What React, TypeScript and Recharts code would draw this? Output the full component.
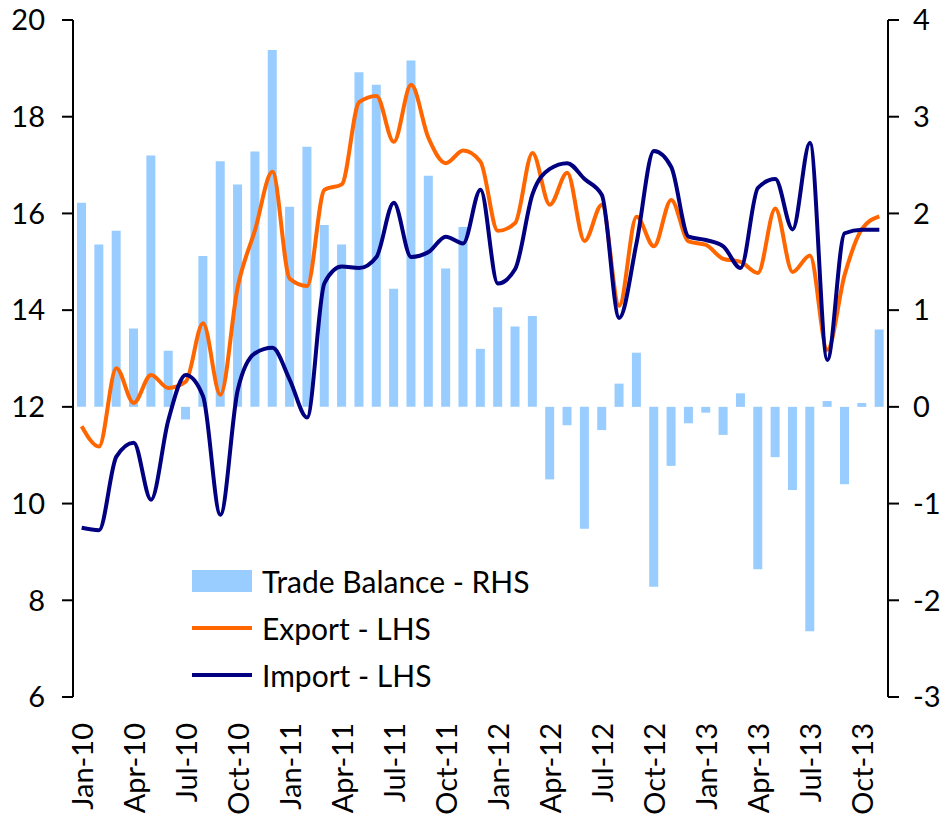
import { Bar, ComposedChart, Legend, Line, XAxis, YAxis } from "recharts"

const months = [
  "Jan-10", "Feb-10", "Mar-10", "Apr-10", "May-10", "Jun-10", "Jul-10", "Aug-10", "Sep-10", "Oct-10", "Nov-10", "Dec-10",
  "Jan-11", "Feb-11", "Mar-11", "Apr-11", "May-11", "Jun-11", "Jul-11", "Aug-11", "Sep-11", "Oct-11", "Nov-11", "Dec-11",
  "Jan-12", "Feb-12", "Mar-12", "Apr-12", "May-12", "Jun-12", "Jul-12", "Aug-12", "Sep-12", "Oct-12", "Nov-12", "Dec-12",
  "Jan-13", "Feb-13", "Mar-13", "Apr-13", "May-13", "Jun-13", "Jul-13", "Aug-13", "Sep-13", "Oct-13", "Nov-13",
]

const tradeBalance = [
  2.11, 1.68, 1.82, 0.81, 2.6, 0.58, -0.13, 1.56, 2.54, 2.3, 2.64, 3.69,
  2.07, 2.69, 1.88, 1.68, 3.46, 3.33, 1.22, 3.58, 2.39, 1.43, 1.86, 0.6,
  1.03, 0.83, 0.94, -0.75, -0.19, -1.26, -0.24, 0.24, 0.56, -1.86, -0.61, -0.17,
  -0.06, -0.29, 0.14, -1.68, -0.52, -0.86, -2.32, 0.06, -0.8, 0.04, 0.8,
]

const exportValues = [
  11.6, 11.18, 12.8, 12.08, 12.66, 12.39, 12.52, 13.73, 12.25, 14.48, 15.66, 16.86,
  14.65, 14.5, 16.49, 16.6, 18.3, 18.43, 17.48, 18.66, 17.56, 17.04, 17.3, 17.07,
  15.64, 15.8, 17.25, 16.18, 16.84, 15.43, 16.18, 14.09, 15.93, 15.32, 16.28, 15.42,
  15.35, 15.06, 15.0, 14.77, 16.1, 14.79, 15.13, 13.18, 14.73, 15.68, 15.94,
]

const importValues = [
  9.5, 9.45, 10.97, 11.26, 10.08, 11.73, 12.66, 12.22, 9.77, 12.35, 13.11, 13.22,
  12.56, 11.78, 14.56, 14.9, 14.87, 15.1, 16.22, 15.1, 15.2, 15.52, 15.38, 16.49,
  14.55, 14.85, 16.4, 16.92, 17.04, 16.71, 16.38, 13.84, 15.39, 17.29, 16.96, 15.52,
  15.45, 15.32, 14.87, 16.53, 16.71, 15.67, 17.46, 12.97, 15.59, 15.66, 15.66,
]

const leftTicks = [6, 8, 10, 12, 14, 16, 18, 20]
const rightTicks = [-3, -2, -1, 0, 1, 2, 3, 4]

const data = months.map((month, i) => ({
  month,
  balance: tradeBalance[i],
  exports: exportValues[i],
  imports: importValues[i],
}))

const font = "Lato, 'Liberation Sans', sans-serif"
const fontSize = 29

function MonthTick({ x, y, payload }: any) {
  return (
    <text
      x={x}
      y={y}
      transform={`rotate(-90, ${x}, ${y})`}
      textAnchor="end"
      dominantBaseline="central"
      fontSize={fontSize}
      fontFamily={font}
      fill="#000"
    >
      {payload.value}
    </text>
  )
}

const legendItems = [
  { label: "Trade Balance - RHS", color: "#99CCFF", bar: true },
  { label: "Export - LHS", color: "#FF6600", bar: false },
  { label: "Import - LHS", color: "#000080", bar: false },
]

function TradeLegend() {
  return (
    <div style={{ fontFamily: font, fontSize: 30, color: "#000" }}>
      {legendItems.map((item) => (
        <div key={item.label} style={{ display: "flex", alignItems: "center", height: 47 }}>
          <svg width={60} height={24} style={{ marginRight: 10 }}>
            {item.bar ? (
              <rect x={0} y={1} width={60} height={22} fill={item.color} />
            ) : (
              <rect x={0} y={10} width={60} height={4} fill={item.color} />
            )}
          </svg>
          <span>{item.label}</span>
        </div>
      ))}
    </div>
  )
}

export default function App() {
  return (
    <div style={{ position: "absolute", left: 0, top: 0 }}>
      <ComposedChart width={941} height={825} data={data} margin={{ top: 20, right: 0, bottom: 0, left: 0 }}>
        <XAxis
          dataKey="month"
          interval={2}
          tickLine={false}
          axisLine={false}
          tickSize={0}
          tickMargin={26}
          height={128}
          tick={<MonthTick />}
        />
        <YAxis
          yAxisId="left"
          domain={[6, 20]}
          ticks={leftTicks}
          width={73}
          tickSize={11}
          tickMargin={17}
          axisLine={{ stroke: "#000", strokeWidth: 2 }}
          tickLine={{ stroke: "#000", strokeWidth: 2 }}
          tick={{ fill: "#000", fontSize, fontFamily: font }}
        />
        <YAxis
          yAxisId="right"
          orientation="right"
          domain={[-3, 4]}
          ticks={rightTicks}
          width={53}
          tickSize={11}
          tickMargin={14}
          axisLine={{ stroke: "#000", strokeWidth: 2 }}
          tickLine={{ stroke: "#000", strokeWidth: 2 }}
          tick={{ fill: "#000", fontSize, fontFamily: font }}
        />
        <Legend
          layout="vertical"
          align="center"
          verticalAlign="middle"
          content={<TradeLegend />}
          wrapperStyle={{ left: 192, top: 557, width: 360 }}
        />
        <Bar yAxisId="right" dataKey="balance" name="Trade Balance - RHS" fill="#99CCFF" barSize={9} isAnimationActive={false} />
        <Line
          yAxisId="left"
          type="monotone"
          dataKey="exports"
          name="Export - LHS"
          stroke="#FF6600"
          strokeWidth={4}
          dot={false}
          isAnimationActive={false}
        />
        <Line
          yAxisId="left"
          type="monotone"
          dataKey="imports"
          name="Import - LHS"
          stroke="#000080"
          strokeWidth={4}
          dot={false}
          isAnimationActive={false}
        />
      </ComposedChart>
    </div>
  )
}
